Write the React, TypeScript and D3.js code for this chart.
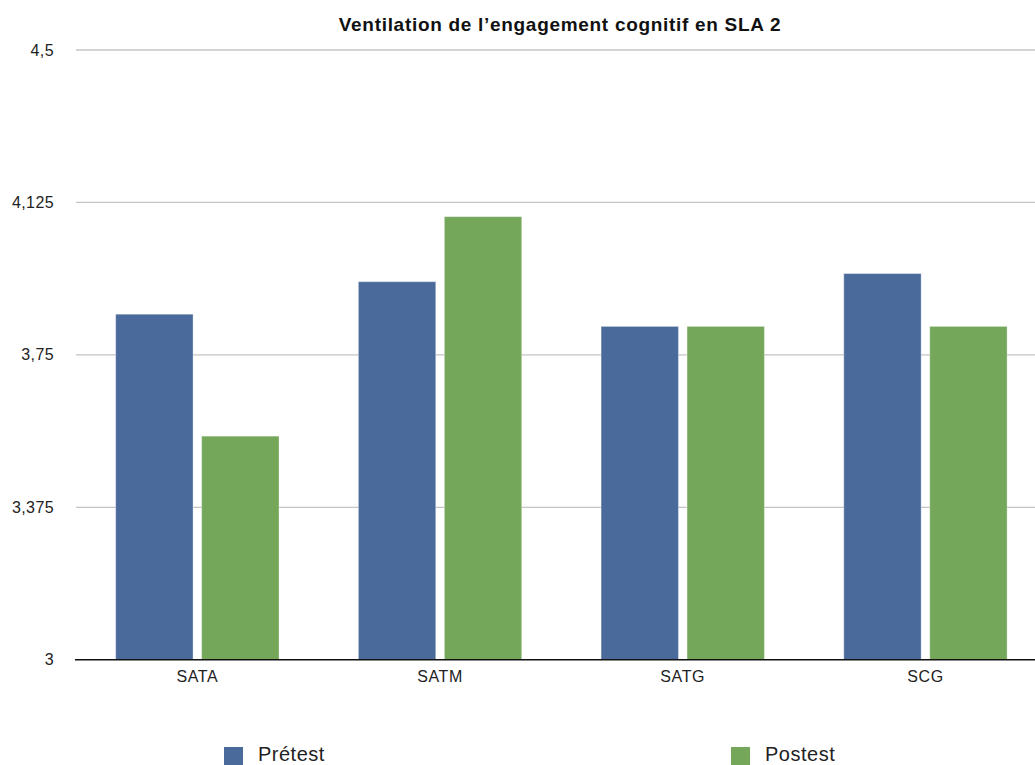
import * as d3 from 'd3';

const WIDTH = 1035;
const HEIGHT = 765;
const MARGIN = { top: 50, left: 76, bottom: 106 };
const BAND_STEP = 242.7;

const categories = ['SATA', 'SATM', 'SATG', 'SCG'];
const series = ['Prétest', 'Postest'];
const pretest = [3.85, 3.93, 3.82, 3.95];
const postest = [3.55, 4.09, 3.82, 3.82];
const yTicks = [3, 3.375, 3.75, 4.125, 4.5];
const yTickLabels = ['3', '3,375', '3,75', '4,125', '4,5'];

const COLORS = ['#4a6a9c', '#74a75a'];
const FONT = '"Liberation Sans", Arial, Helvetica, sans-serif';

const App = () => {
  const baseY = HEIGHT - MARGIN.bottom + 0.7;

  const xScale = d3
    .scaleBand()
    .domain(categories)
    .range([MARGIN.left, MARGIN.left + BAND_STEP * categories.length])
    .paddingInner(0.327)
    .paddingOuter(0.1635);

  const xInner = d3
    .scaleBand()
    .domain(series)
    .range([0, xScale.bandwidth()])
    .paddingInner(0.1);

  const yScale = d3.scaleLinear().domain([3, 4.5]).range([baseY, MARGIN.top]);

  const values = [pretest, postest];

  const grid = yTicks.map((t, i) => (
    <g key={i}>
      {i > 0 && (
        <line
          x1={MARGIN.left}
          x2={WIDTH}
          y1={yScale(t)}
          y2={yScale(t)}
          stroke="#c4c4c4"
          strokeWidth={1.3}
        />
      )}
      <text
        x={54}
        y={yScale(t)}
        textAnchor="end"
        dominantBaseline="central"
        fontSize={16}
        letterSpacing={0.4}
        fill="#222"
      >
        {yTickLabels[i]}
      </text>
    </g>
  ));

  const bars = categories.map((c, ci) => (
    <g key={c} transform={`translate(${xScale(c)},0)`}>
      {series.map((s, si) => {
        const v = values[si][ci];
        return (
          <rect
            key={s}
            x={xInner(s)}
            y={yScale(v)}
            width={xInner.bandwidth()}
            height={baseY - yScale(v)}
            fill={COLORS[si]}
            stroke="#ffffff"
            strokeOpacity={0.35}
            strokeWidth={1}
          />
        );
      })}
      <text
        x={xScale.bandwidth() / 2}
        y={baseY + 17}
        textAnchor="middle"
        dominantBaseline="central"
        fontSize={16}
        letterSpacing={0.6}
        fill="#222"
      >
        {c}
      </text>
    </g>
  ));

  const legendX = [224, 731];
  const legend = series.map((s, i) => (
    <g key={s} transform={`translate(${legendX[i]},747)`}>
      <rect width={19} height={19} fill={COLORS[i]} />
      <text x={34} y={14} fontSize={20} letterSpacing={0.5} fill="#222">
        {s}
      </text>
    </g>
  ));

  return (
    <svg
      width={WIDTH}
      height={HEIGHT}
      style={{ position: 'absolute', left: 0, top: 0, background: '#fff' }}
      fontFamily={FONT}
    >
      {grid}
      {bars}
      <line x1={75} x2={WIDTH} y1={baseY} y2={baseY} stroke="#111" strokeWidth={1.6} />
      <text
        x={560}
        y={31}
        textAnchor="middle"
        fontSize={19}
        letterSpacing={0.7}
        fontWeight="bold"
        fill="#111"
      >
        Ventilation de l’engagement cognitif en SLA 2
      </text>
      {legend}
    </svg>
  );
};

export default App;
